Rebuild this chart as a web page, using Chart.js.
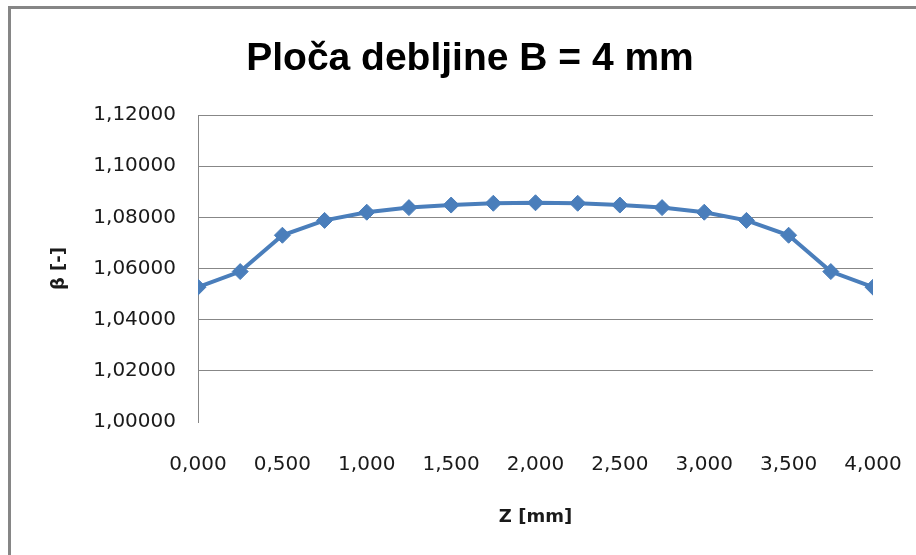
<!DOCTYPE html>
<html>
<head>
<meta charset="utf-8">
<title>Ploča debljine B = 4 mm</title>
<script src="https://cdn.jsdelivr.net/npm/chart.js@4"></script>
<style>
  html, body { margin: 0; padding: 0; background: #fff; }
  canvas { display: block; }
</style>
</head>
<body>
<canvas id="myChart" width="916" height="555"></canvas>
<script>
// z position across the plate [mm] and the beta factor at each point
const zValues = [0, 0.25, 0.5, 0.75, 1.0, 1.25, 1.5, 1.75, 2.0, 2.25, 2.5, 2.75, 3.0, 3.25, 3.5, 3.75, 4.0];
const betaValues = [1.0527, 1.0588, 1.0730, 1.0788, 1.0820, 1.0838, 1.0848, 1.0855, 1.0857,
                    1.0855, 1.0848, 1.0838, 1.0820, 1.0788, 1.0730, 1.0588, 1.0527];

const chartTitle = 'Ploča debljine B = 4 mm';
const xTitle = 'Z [mm]';
const yTitle = 'β [-]';

const xTickDigits = 3;
const yTickDigits = 5;

const lineColor = '#4a7ebb';
const gridColor = '#878787';
const textColor = '#1a1a1a';

const formatComma = (value, digits) => Number(value).toFixed(digits).replace('.', ',');

// outer frame + big title, drawn straight onto the canvas
const frameAndTitle = {
    id: 'frameAndTitle',
    beforeDraw(chart) {
        const ctx = chart.ctx;
        ctx.save();
        ctx.fillStyle = '#fff';
        ctx.fillRect(0, 0, chart.width, chart.height);
        ctx.strokeStyle = '#868686';
        ctx.lineWidth = 3;
        ctx.strokeRect(9.5, 7.5, chart.width + 20, chart.height + 20);
        ctx.restore();
    },
    afterDraw(chart) {
        const ctx = chart.ctx;
        ctx.save();
        ctx.fillStyle = '#000';
        ctx.font = 'bold 39px "Liberation Sans", Arial, sans-serif';
        ctx.textAlign = 'center';
        ctx.textBaseline = 'alphabetic';
        ctx.fillText(chartTitle, 470, 70);
        ctx.restore();
    }
};

const ctx = document.getElementById('myChart');

const chart = new Chart(ctx, {
    type: 'line',
    data: {
        datasets: [
            {
                data: zValues.map((z, i) => ({ x: z, y: betaValues[i] })),
                borderColor: lineColor,
                backgroundColor: lineColor,
                borderWidth: 4,
                pointStyle: 'rectRot',
                pointRadius: 8,
                pointBorderWidth: 1,
                pointBackgroundColor: lineColor,
                pointBorderColor: lineColor,
                tension: 0,
                fill: false
            }
        ]
    },
    options: {
        responsive: false,
        animation: false,
        layout: {
            padding: { left: 0, top: 115, right: 43, bottom: 0 }
        },
        plugins: {
            legend: { display: false },
            title: { display: false },
            tooltip: { enabled: false }
        },
        scales: {
            x: {
                type: 'linear',
                min: 0,
                max: 4,
                afterFit: (scale) => {
                    scale.height = 133;
                    // edge labels fit inside the fixed right margin
                    scale.paddingLeft = 0;
                    scale.paddingRight = 0;
                },
                grid: { display: false, drawTicks: false },
                border: { display: false },
                ticks: {
                    stepSize: 0.5,
                    padding: 31,
                    color: textColor,
                    font: { family: '"DejaVu Sans", sans-serif', size: 20 },
                    maxRotation: 0,
                    callback: (value) => formatComma(value, xTickDigits)
                },
                title: {
                    display: true,
                    text: xTitle,
                    color: textColor,
                    font: { family: '"DejaVu Sans", sans-serif', size: 18, weight: 'bold' },
                    padding: { top: 0, bottom: 27 }
                }
            },
            y: {
                type: 'linear',
                min: 1.0,
                max: 1.12,
                afterFit: (scale) => { scale.width = 198; },
                grid: {
                    drawTicks: false,
                    lineWidth: 1,
                    color: (c) => (c.tick && Math.abs(c.tick.value - 1.0) < 1e-9 ? 'rgba(0,0,0,0)' : gridColor)
                },
                border: { display: true, color: gridColor, width: 1 },
                ticks: {
                    stepSize: 0.02,
                    padding: 22,
                    color: textColor,
                    font: { family: '"DejaVu Sans", sans-serif', size: 20 },
                    callback: (value) => formatComma(value, yTickDigits)
                },
                title: {
                    display: true,
                    text: yTitle,
                    color: textColor,
                    font: { family: '"DejaVu Sans", sans-serif', size: 18, weight: 'bold' },
                    padding: { top: 49, bottom: 0 }
                }
            }
        }
    },
    plugins: [frameAndTitle]
});
</script>
</body>
</html>
